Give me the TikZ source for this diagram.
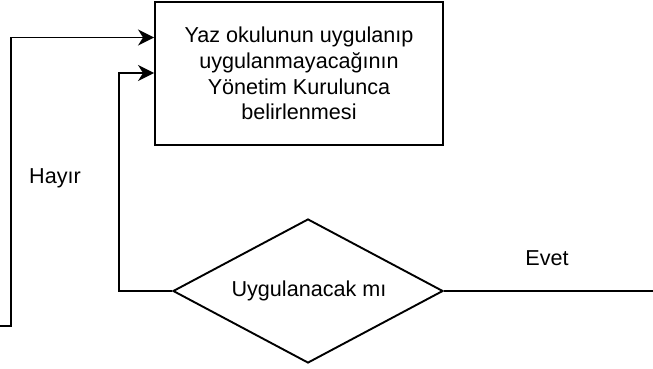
\documentclass[tikz,border=0pt]{standalone}
\usepackage{fontspec}
\setmainfont{Liberation Sans}
\usetikzlibrary{shapes.geometric,arrows.meta}
\begin{document}
\begin{tikzpicture}[x=1pt,y=1pt,
  every node/.style={font=\fontsize{21.6}{25.8}\selectfont},
  line/.style={draw=black,line width=1.9pt},
  arr/.style={line,-{Stealth[length=16pt,width=16pt,inset=5pt]}},
  procbox/.style={line,rectangle,minimum width=288pt,minimum height=143pt,inner sep=0pt,align=center},
  decision/.style={line,diamond,minimum width=270pt,minimum height=144pt,inner sep=0pt,aspect=1.875},
  lbl/.style={inner sep=0pt}]
\useasboundingbox (0,0) rectangle (653,369);
\node[procbox] (box) at (299,295.5) {Yaz okulunun uygulanıp\\uygulanmayacağının\\Yönetim Kurulunca\\belirlenmesi};
\node[decision] (dec) at (308,78) {};
\node[lbl] (dectext) at (309,78) {Uygulanacak mı};
\coordinate (s1) at (0,43);
\coordinate (c1) at (11,43);
\coordinate (c2) at (119,78);
\coordinate (e1) at (653,78);
\draw[arr] (s1) -- (c1) |- ([yshift=36pt]box.west);
\draw[arr] (dec.west) -- (c2) |- ([yshift=0.5pt]box.west);
\draw[line] (dec.east) -- (e1);
\node[lbl] (hayir) at (55,191) {Hayır};
\node[lbl] (evet) at (547,111) {Evet};
\end{tikzpicture}
\end{document}
